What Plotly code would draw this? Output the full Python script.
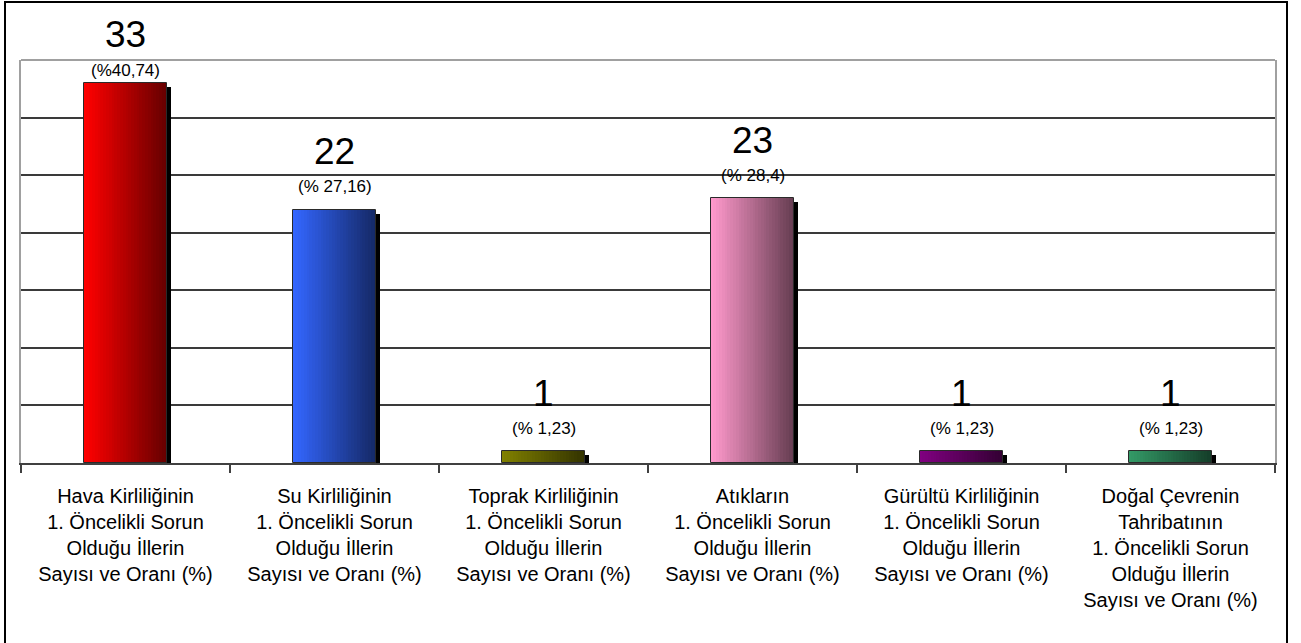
import plotly.graph_objects as go

# --- data -------------------------------------------------------------
categories = [
    "Hava Kirliliğinin<br>1. Öncelikli Sorun<br>Olduğu İllerin<br>Sayısı ve Oranı (%)",
    "Su Kirliliğinin<br>1. Öncelikli Sorun<br>Olduğu İllerin<br>Sayısı ve Oranı (%)",
    "Toprak Kirliliğinin<br>1. Öncelikli Sorun<br>Olduğu İllerin<br>Sayısı ve Oranı (%)",
    "Atıkların<br>1. Öncelikli Sorun<br>Olduğu İllerin<br>Sayısı ve Oranı (%)",
    "Gürültü Kirliliğinin<br>1. Öncelikli Sorun<br>Olduğu İllerin<br>Sayısı ve Oranı (%)",
    "Doğal Çevrenin<br>Tahribatının<br>1. Öncelikli Sorun<br>Olduğu İllerin<br>Sayısı ve Oranı (%)",
]
counts = [33, 22, 1, 23, 1, 1]
pct_labels = ["(%40,74)", "(% 27,16)", "(% 1,23)", "(% 28,4)", "(% 1,23)", "(% 1,23)"]

# --- style ------------------------------------------------------------
light = ["#FF0000", "#3366FF", "#808000", "#FF99CC", "#800080", "#339966"]
dark_factor = 0.4
FONT = "Liberation Sans, Arial, sans-serif"

W, H = 1301, 643
ML, MR, MT, MB = 21, 26, 60, 180
plot_w = W - ML - MR
plot_h = H - MT - MB
y_max = 35
px_per_unit = plot_h / y_max
bar_w = 0.40
n_slices = 30


def hex_rgb(h):
    h = h.lstrip("#")
    return [int(h[i:i + 2], 16) for i in (0, 2, 4)]


def mix(c1, c2, t):
    return "rgb(%d,%d,%d)" % tuple(round(a + (b - a) * t) for a, b in zip(c1, c2))


fig = go.Figure()

# drop shadow
cat_px = plot_w / len(categories)
fig.add_trace(go.Bar(
    x=categories,
    y=[v - 4 / px_per_unit for v in counts],
    width=bar_w,
    offset=-bar_w / 2 + 4 / cat_px,
    marker=dict(color="black", line=dict(width=0)),
    hoverinfo="skip",
))

# horizontal gradient, drawn as thin slices
step = bar_w / n_slices
for k in range(n_slices):
    t = k / (n_slices - 1)
    cols = []
    for c in light:
        c1 = hex_rgb(c)
        c2 = [x * dark_factor for x in c1]
        cols.append(mix(c1, c2, t))
    fig.add_trace(go.Bar(
        x=categories,
        y=counts,
        width=min(step * 1.6, bar_w - k * step),
        offset=-bar_w / 2 + k * step,
        marker=dict(color=cols, line=dict(width=0)),
        hoverinfo="skip",
    ))

# outline
fig.add_trace(go.Bar(
    x=categories,
    y=counts,
    width=bar_w,
    marker=dict(color="rgba(0,0,0,0)", line=dict(color="#2a2a2a", width=1)),
    hoverinfo="skip",
))

# value labels
for cat, v, p in zip(categories, counts, pct_labels):
    top_px = MT + (y_max - v) * px_per_unit
    num_c = max(top_px - 58, 34)
    pct_c = max(top_px - 23, 70)
    fig.add_annotation(x=cat, y=v, text=str(v), showarrow=False,
                       yanchor="middle", yshift=top_px - num_c,
                       font=dict(family=FONT, size=37, color="black"))
    fig.add_annotation(x=cat, y=v, text=p, showarrow=False,
                       yanchor="middle", yshift=top_px - pct_c,
                       font=dict(family=FONT, size=17, color="black"))

# top border of plot area and outer frame
fig.add_shape(type="line", xref="paper", yref="paper", x0=0, x1=1, y0=1, y1=1,
              line=dict(color="#808080", width=1.5))
fig.add_shape(type="rect", xref="paper", yref="paper",
              x0=(5 - ML) / plot_w, x1=(1287 - ML) / plot_w,
              y0=(MT + plot_h - 647) / plot_h, y1=(MT + plot_h - 2) / plot_h,
              line=dict(color="black", width=2), fillcolor="rgba(0,0,0,0)")

fig.update_layout(
    width=W, height=H,
    margin=dict(l=ML, r=MR, t=MT, b=MB),
    barmode="overlay",
    bargap=0,
    showlegend=False,
    plot_bgcolor="white",
    paper_bgcolor="white",
    font=dict(family=FONT, color="black"),
    xaxis=dict(
        type="category",
        tickson="boundaries",
        ticks="outside",
        ticklen=8,
        tickwidth=2,
        tickcolor="#404040",
        showline=True,
        linecolor="#404040",
        linewidth=2,
        showgrid=False,
        tickfont=dict(family=FONT, size=20, color="black"),
        ticklabelstandoff=14,
    ),
    yaxis=dict(
        range=[0, y_max],
        tickmode="array",
        tickvals=list(range(5, y_max, 5)),
        showticklabels=False,
        showgrid=True,
        gridcolor="#3a3a3a",
        gridwidth=1.5,
        zeroline=False,
        showline=True,
        mirror=True,
        linecolor="#a0a0a0",
        linewidth=1.5,
        ticks="",
    ),
)

fig.write_html(
    "out.html",
    config={"displayModeBar": False},
    post_script="document.body.style.margin='0';document.body.style.overflow='hidden';",
)
